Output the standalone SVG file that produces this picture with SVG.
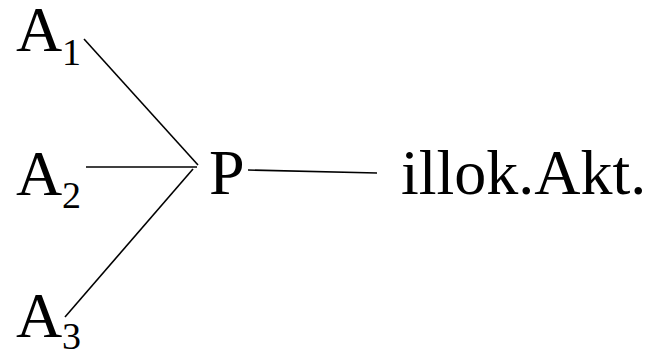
<svg xmlns="http://www.w3.org/2000/svg" width="648" height="352" viewBox="0 0 648 352">
<style>
.c{stroke:#000;stroke-width:1.6;fill:none}
</style>
<rect width="648" height="352" fill="#fff"/>
<g id="A1"><text x="16" y="51" font-size="64" font-family="Liberation Serif">A</text><text x="62" y="65" font-size="38" font-family="Liberation Serif">1</text></g>
<g id="A2"><text x="16" y="195" font-size="64" font-family="Liberation Serif">A</text><text x="62" y="208" font-size="38" font-family="Liberation Serif">2</text></g>
<g id="A3"><text x="16" y="337" font-size="64" font-family="Liberation Serif">A</text><text x="62" y="349" font-size="38" font-family="Liberation Serif">3</text></g>
<g id="P"><text x="209" y="194" font-size="64" font-family="Liberation Serif">P</text></g>
<g id="illok"><text x="401" y="194" font-size="64" font-family="Liberation Serif">illok.Akt.</text></g>
<g id="connectors">
<line class="c" x1="84" y1="39" x2="198" y2="165"/>
<line class="c" x1="86" y1="167" x2="197" y2="167"/>
<line class="c" x1="193" y1="169" x2="65" y2="317"/>
<line class="c" x1="248" y1="170" x2="377" y2="173"/>
</g>
</svg>
